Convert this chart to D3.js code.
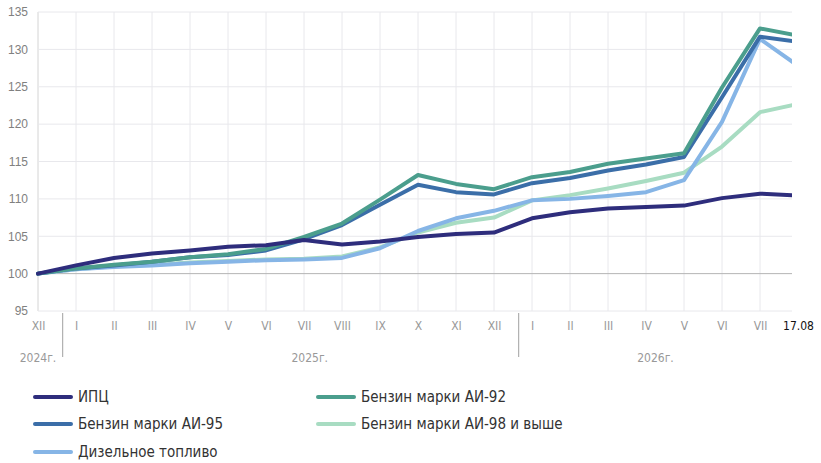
<!DOCTYPE html>
<html>
<head>
<meta charset="utf-8">
<script src="https://cdn.jsdelivr.net/npm/d3@7"></script>
<style>
  body { margin: 0; background: #fff; }
  svg { display: block; }
</style>
</head>
<body>
<div id="chart"></div>
<script>
// x categories: months from XII 2024 to VII 2026, plus the last date
const months = ['XII', 'I', 'II', 'III', 'IV', 'V', 'VI', 'VII', 'VIII', 'IX', 'X', 'XI', 'XII',
    'I', 'II', 'III', 'IV', 'V', 'VI', 'VII', '17.08'];
const years = ['2024г.', '2025г.', '2026г.'];
// where each year label sits, in category index units
const yearCenters = [0, 7.15, 16.25];
// year separators, in category index units
const yearSeps = [0.65, 12.65];
const yTicks = [95, 100, 105, 110, 115, 120, 125, 130, 135];

const seriesNames = ['ИПЦ', 'Бензин марки АИ-92', 'Бензин марки АИ-95', 'Бензин марки АИ-98 и  выше', 'Дизельное топливо'];

const cpi = [100, 101.1, 102.1, 102.7, 103.1, 103.6, 103.8, 104.5, 103.9, 104.3, 104.9, 105.3, 105.5,
    107.4, 108.2, 108.7, 108.9, 109.1, 110.1, 110.7, 110.45];
const ai92 = [100, 100.7, 101.2, 101.6, 102.2, 102.6, 103.3, 104.9, 106.7, 109.9, 113.2, 112.0, 111.3,
    112.9, 113.6, 114.7, 115.4, 116.1, 124.9, 132.8, 131.85];
const ai95 = [100, 100.7, 101.1, 101.6, 102.2, 102.5, 103.1, 104.6, 106.5, 109.2, 111.9, 110.9, 110.6,
    112.1, 112.8, 113.8, 114.6, 115.6, 123.6, 131.7, 131.0];
const ai98 = [100, 100.6, 101.0, 101.2, 101.5, 101.7, 101.9, 102.0, 102.3, 103.5, 105.5, 106.8, 107.5,
    109.8, 110.5, 111.4, 112.4, 113.5, 117.0, 121.6, 122.7];
const diesel = [100, 100.6, 100.9, 101.1, 101.4, 101.6, 101.8, 101.9, 102.1, 103.4, 105.7, 107.4, 108.4,
    109.8, 110.0, 110.4, 110.9, 112.5, 120.3, 131.4, 127.8];

const colors = ['#2e2d7c', '#4b9e8d', '#3b6ea8', '#a8dcc2', '#86b5e6'];
const data = [cpi, ai92, ai95, ai98, diesel];

const width = 821, height = 463;
const margin = { left: 38, right: 29, top: 12, bottom: 152 };
const plotRight = width - margin.right;
const plotBottom = height - margin.bottom;

const svg = d3.select('#chart')
    .append('svg')
    .attr('width', width)
    .attr('height', height);

const font = '"Liberation Sans Narrow", "DejaVu Sans Condensed", "Liberation Sans", sans-serif';

// x: one step per month, the last label sits just past the plot edge
const x = d3.scaleLinear().domain([0, months.length - 1]).range([margin.left, 798]);
const y = d3.scaleLinear().domain([95, 135]).range([plotBottom, margin.top]);

//grid
svg.append('g')
    .selectAll('line')
    .data(d3.range(months.length - 1))
    .join('line')
    .attr('x1', d => x(d)).attr('x2', d => x(d))
    .attr('y1', margin.top).attr('y2', plotBottom)
    .attr('stroke', d => d === 0 ? '#d4d4d4' : '#e8e8ec')
    .attr('stroke-width', 1);

svg.append('g')
    .selectAll('line')
    .data(yTicks)
    .join('line')
    .attr('x1', margin.left).attr('x2', plotRight)
    .attr('y1', d => y(d)).attr('y2', d => y(d))
    .attr('stroke', d => d === 100 ? '#b4b4b4' : '#e8e8ec')
    .attr('stroke-width', 1);

// y axis labels
const yAxis = svg.append('g')
    .attr('transform', `translate(${margin.left},0)`)
    .call(d3.axisLeft(y).tickValues(yTicks).tickSize(0).tickPadding(10));
yAxis.select('.domain').remove();
yAxis.selectAll('text')
    .attr('fill', '#808080')
    .style('font-family', '"Liberation Sans", Arial, sans-serif')
    .style('font-size', '12px');

// x axis month labels
const last = months.length - 1;
const xAxis = svg.append('g')
    .attr('transform', `translate(0,${plotBottom})`)
    .call(d3.axisBottom(x).tickValues(d3.range(months.length)).tickFormat(i => months[i])
        .tickSize(0).tickPadding(10));
xAxis.select('.domain').remove();
xAxis.selectAll('text')
    .attr('fill', (d, i) => i === last ? '#111' : '#999')
    .style('font-family', font)
    .style('font-size', '12px');

// year separators and labels
svg.append('g')
    .selectAll('line')
    .data(yearSeps)
    .join('line')
    .attr('x1', d => x(d)).attr('x2', d => x(d))
    .attr('y1', plotBottom + 2).attr('y2', plotBottom + 46)
    .attr('stroke', '#a0a0a0')
    .attr('stroke-width', 1);

svg.append('g')
    .selectAll('text')
    .data(years)
    .join('text')
    .attr('x', (d, i) => x(yearCenters[i]))
    .attr('y', plotBottom + 51)
    .attr('text-anchor', 'middle')
    .attr('fill', '#999')
    .style('font-family', font)
    .style('font-size', '12px')
    .text(d => d);

// lines
svg.append('clipPath').attr('id', 'plot-clip')
    .append('rect')
    .attr('x', margin.left - 3).attr('y', 0)
    .attr('width', plotRight - margin.left + 3).attr('height', plotBottom);

const line = d3.line()
    .x((d, i) => x(i))
    .y(d => y(d));

const drawOrder = [3, 4, 2, 1, 0];
svg.append('g')
    .attr('clip-path', 'url(#plot-clip)')
    .selectAll('path')
    .data(drawOrder)
    .join('path')
    .attr('d', k => line(data[k]))
    .attr('fill', 'none')
    .attr('stroke', k => colors[k])
    .attr('stroke-width', 4)
    .attr('stroke-linejoin', 'round')
    .attr('stroke-linecap', 'round');

// legend
const legendPos = [[35, 397], [318, 397], [35, 424], [318, 424], [35, 452]];
const legend = svg.append('g')
    .selectAll('g')
    .data(seriesNames)
    .join('g')
    .attr('transform', (d, i) => `translate(${legendPos[i][0]},${legendPos[i][1]})`);

legend.append('line')
    .attr('x1', 0).attr('x2', 36)
    .attr('stroke', (d, i) => colors[i])
    .attr('stroke-width', 4)
    .attr('stroke-linecap', 'round');

legend.append('text')
    .attr('x', 43)
    .attr('y', 5)
    .attr('fill', '#333')
    .style('font-family', font)
    .style('font-size', '15px')
    .text(d => d);
</script>
</body>
</html>
